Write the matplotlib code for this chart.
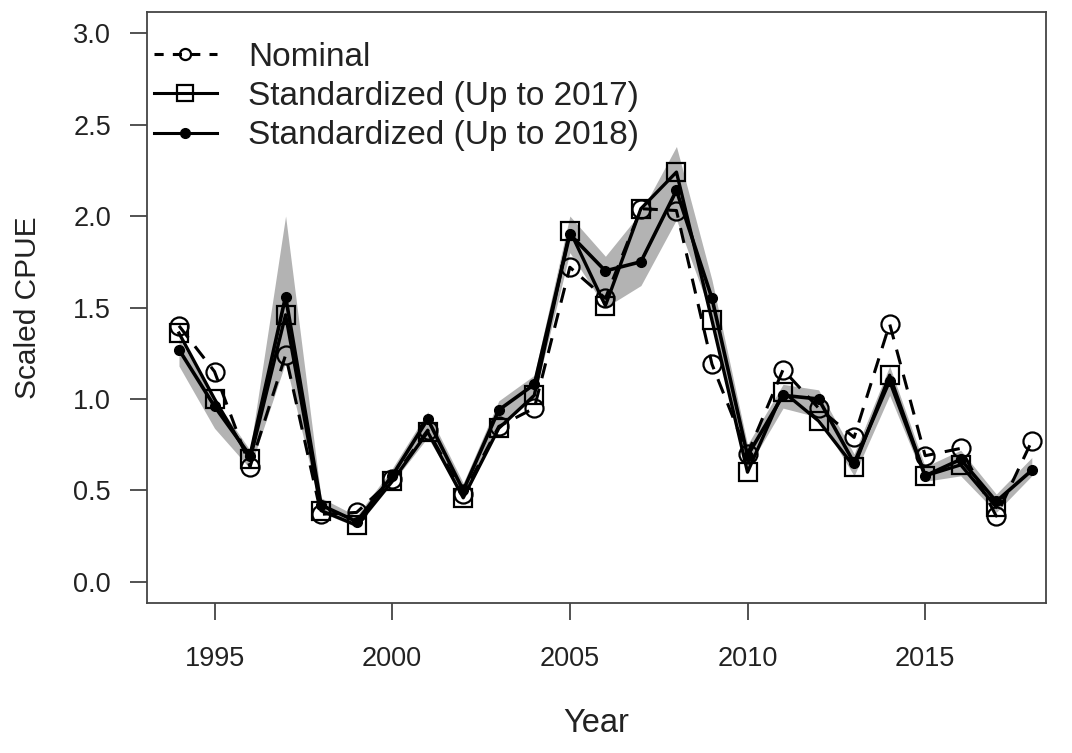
import matplotlib
matplotlib.use("Agg")
import matplotlib.pyplot as plt
from matplotlib.lines import Line2D

plt.rcParams['font.family'] = ['Liberation Sans', 'DejaVu Sans']

years = list(range(1994, 2019))
nominal = [1.40, 1.15, 0.63, 1.24, 0.37, 0.38, 0.56, 0.83, 0.48, 0.85, 0.95,
           1.72, 1.55, 2.04, 2.03, 1.19, 0.70, 1.16, 0.95, 0.79, 1.41, 0.69,
           0.73, 0.36, 0.77]
years_2017 = list(range(1994, 2018))
std_2017 = [1.36, 1.00, 0.67, 1.46, 0.39, 0.31, 0.55, 0.82, 0.46, 0.84, 1.02,
            1.92, 1.51, 2.04, 2.24, 1.43, 0.60, 1.04, 0.88, 0.63, 1.13, 0.58,
            0.64, 0.41]
std_2018 = [1.27, 0.96, 0.69, 1.56, 0.42, 0.33, 0.58, 0.89, 0.50, 0.94, 1.08,
            1.90, 1.70, 1.75, 2.14, 1.55, 0.69, 1.02, 1.00, 0.65, 1.10, 0.58,
            0.67, 0.44, 0.61]
band_lower = [1.18, 0.84, 0.62, 1.20, 0.38, 0.30, 0.54, 0.79, 0.46, 0.86, 1.01,
              1.80, 1.50, 1.62, 1.98, 1.45, 0.62, 0.95, 0.90, 0.58, 1.02, 0.55,
              0.58, 0.38, 0.58]
band_upper = [1.33, 1.00, 0.72, 2.00, 0.46, 0.36, 0.62, 0.93, 0.54, 0.99, 1.13,
              2.00, 1.78, 2.02, 2.38, 1.65, 0.75, 1.08, 1.05, 0.70, 1.18, 0.63,
              0.72, 0.48, 0.68]

legend_labels = ["Nominal", "Standardized (Up to 2017)", "Standardized (Up to 2018)"]
y_ticks = [0.0, 0.5, 1.0, 1.5, 2.0, 2.5, 3.0]
x_ticks = [1995, 2000, 2005, 2010, 2015]

fig = plt.figure(figsize=(10.72, 7.53), dpi=100)
ax = fig.add_axes([147/1072, 1-603/753, (1046-147)/1072, (603-12)/753])

ax.fill_between(years, band_lower, band_upper, color='#b3b3b3', lw=0, zorder=1)

ax.plot(years, nominal, color='black', lw=2.2, ls=(0, (5, 3.5)), marker='o',
        ms=13, mfc='none', mec='black', mew=1.6, zorder=3)
ax.plot(years_2017, std_2017, color='black', lw=2.4, marker='s', ms=13,
        mfc='none', mec='black', mew=1.6, zorder=4)
ax.plot(years, std_2018, color='black', lw=2.6, marker='o', ms=7,
        mfc='black', mec='black', zorder=5)

ax.set_xlim(1993.10, 2018.40)
ax.set_ylim(-0.115, 3.115)
ax.set_xticks(x_ticks)
ax.set_xticklabels([str(t) for t in x_ticks])
ax.set_yticks(y_ticks)
ax.set_yticklabels([f"{t:.1f}" for t in y_ticks])

axcol = '#444444'
for s in ax.spines.values():
    s.set_color(axcol)
    s.set_linewidth(1.3)
ax.tick_params(direction='out', length=12, width=1.3, color=axcol,
               labelsize=19.5, labelcolor='#222222')
ax.tick_params(axis='x', pad=19)
ax.tick_params(axis='y', pad=14)

ax.set_xlabel("Year", fontsize=23.5, color='#222222', labelpad=26)
ax.set_ylabel("Scaled CPUE", fontsize=21.5, color='#222222', labelpad=22)

handles = [
    Line2D([], [], color='black', lw=2.2, ls=(0, (3, 3)), marker='o', ms=8,
           mfc='none', mec='black', mew=1.6),
    Line2D([], [], color='black', lw=2.2, marker='s', ms=12, mfc='none',
           mec='black', mew=1.6),
    Line2D([], [], color='black', lw=2.2, marker='o', ms=7, mfc='black'),
]
leg = ax.legend(handles, legend_labels, loc='upper left', frameon=False,
                fontsize=24, handlelength=1.9, handletextpad=0.93,
                labelspacing=0.25, borderaxespad=0.0, borderpad=0.2,
                bbox_to_anchor=(0.0, 0.961))
for t in leg.get_texts():
    t.set_color('#222222')

fig.savefig("out.png", dpi=100)
